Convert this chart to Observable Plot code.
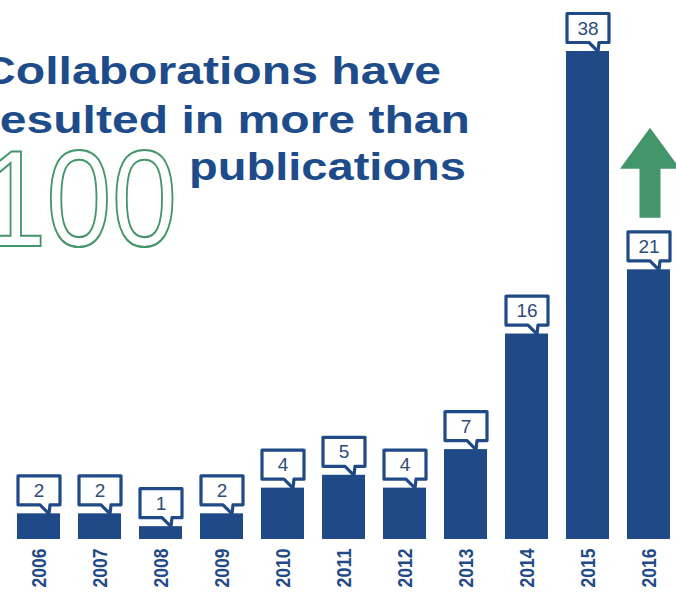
<!DOCTYPE html>
<html>
<head>
<meta charset="utf-8">
<script src="https://cdn.jsdelivr.net/npm/d3@7"></script>
<script src="https://cdn.jsdelivr.net/npm/@observablehq/plot@0.6"></script>
<style>
  body { margin: 0; background: #fff; overflow: hidden; }
  #chart { width: 676px; height: 595px; }
  #chart svg [aria-label^="x-axis"] text {
    font-family: "Liberation Sans", Arial, sans-serif !important;
    font-size: 21px !important;
    font-weight: bold !important;
    fill: #1f4a87 !important;
  }
</style>
</head>
<body>
<div id="chart"></div>
<script>
// ---- data ----
const years = ["2006", "2007", "2008", "2009", "2010", "2011", "2012", "2013", "2014", "2015", "2016"];
const publications = [2, 2, 1, 2, 4, 5, 4, 7, 16, 38, 21];
const titleLine1 = "Collaborations have";
const titleLine2 = "resulted in more than";
const bigNumber = "100";
const titleLine3 = "publications";
const trendYear = "2016";

const data = years.map((year, i) => ({year, value: publications[i]}));

const BLUE = "#1f4a87";
const TITLE_BLUE = "#1e4c8a";
const GREEN = "#43956a";

// speech-bubble callout drawn above each bar top
const callout = {
  draw(ctx) {
    ctx.moveTo(-21, -38);
    ctx.lineTo(21, -38);
    ctx.lineTo(21, -9);
    ctx.lineTo(11, -9);
    ctx.lineTo(10, 0);
    ctx.lineTo(1, -9);
    ctx.lineTo(-21, -9);
    ctx.closePath();
  }
};

// block arrow drawn above the trend bar's callout
const upArrow = {
  draw(ctx) {
    ctx.moveTo(1, -142);
    ctx.lineTo(31, -101);
    ctx.lineTo(11.5, -101);
    ctx.lineTo(11.5, -52);
    ctx.lineTo(-9.5, -52);
    ctx.lineTo(-9.5, -101);
    ctx.lineTo(-29, -101);
    ctx.closePath();
  }
};

const chart = Plot.plot({
  width: 676,
  height: 595,
  marginLeft: 14,
  marginRight: 3,
  marginTop: 51,
  marginBottom: 56,
  style: {background: "#fff", fontFamily: "'Liberation Sans', Arial, sans-serif"},
  x: {domain: years, paddingInner: 0.3, paddingOuter: 0, label: null, tickSize: 0, tickPadding: 9, tickRotate: -90},
  y: {domain: [0, 38], axis: null},
  marks: [
    Plot.barY(data, {x: "year", y: "value", fill: BLUE}),
    Plot.dot(data, {x: "year", y: "value", symbol: callout, fill: "#fff", stroke: BLUE, strokeWidth: 3.2, strokeLinejoin: "round"}),
    Plot.text(data, {x: "year", y: "value", text: d => String(d.value), dy: -23, fill: "#2e4b7a", fontSize: 19}),
    Plot.dot(data.filter(d => d.year === trendYear), {x: "year", y: "value", symbol: upArrow, fill: GREEN, stroke: "none"})
  ]
});

// squeeze the rotated year labels to the reference's length
d3.select(chart).selectAll('[aria-label^="x-axis"] text')
  .attr("textLength", 39)
  .attr("lengthAdjust", "spacingAndGlyphs");

// title block (top-left, partly cut by the left edge as in the original)
const g = d3.select(chart).append("g").attr("aria-label", "title").attr("text-anchor", "start");
const addText = (txt, x, y, size, weight, len) =>
  g.append("text")
    .attr("x", x).attr("y", y)
    .attr("text-anchor", "start")
    .attr("font-size", size)
    .attr("font-weight", weight)
    .attr("font-family", "'Liberation Sans', Arial, sans-serif")
    .attr("textLength", len)
    .attr("lengthAdjust", "spacingAndGlyphs")
    .text(txt);

addText(titleLine1, -19, 84, 38.5, "bold", 460).attr("fill", TITLE_BLUE);
addText(titleLine2, -19, 133, 38.5, "bold", 489).attr("fill", TITLE_BLUE);
addText(bigNumber, -19, 246, 138, "normal", 196)
  .attr("fill", "#fff").attr("stroke", GREEN).attr("stroke-width", 2.1);
addText(titleLine3, 189, 180, 38.5, "bold", 277).attr("fill", TITLE_BLUE);

document.getElementById("chart").appendChild(chart);
</script>
</body>
</html>
